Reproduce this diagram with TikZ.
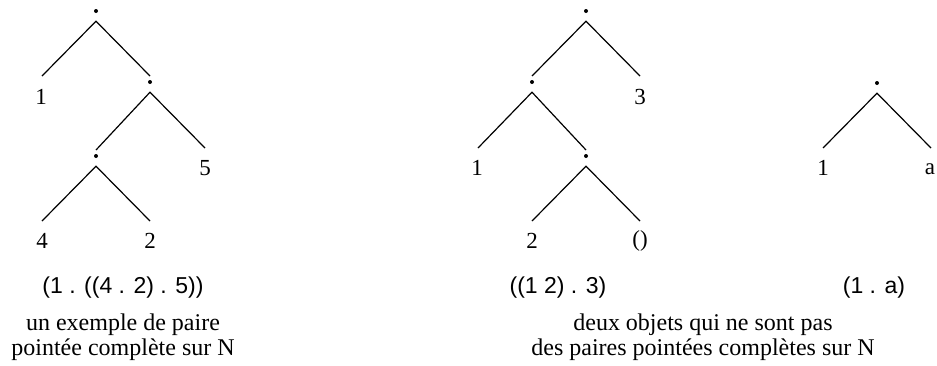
\documentclass[tikz,border=0pt]{standalone}
\usepackage{fontspec}
\setmainfont{Liberation Serif}
\newfontfamily\arialfont{Liberation Sans}
\begin{document}
\begin{tikzpicture}[x=1pt,y=-1pt,
  pairnode/.style={rectangle,inner sep=0pt,minimum width=5pt,minimum height=20pt,
    path picture={\fill (path picture bounding box.center) circle (2pt);}},
  leaf/.style={inner sep=0pt,font=\fontsize{23}{27}\selectfont},
  expr/.style={inner sep=0pt,font=\arialfont\fontsize{23}{27}\selectfont},
  caption/.style={inner sep=0pt,align=center,font=\fontsize{24}{25}\selectfont},
  edge/.style={line width=1.2pt}]
\useasboundingbox (0,0) rectangle (937,365);
% left tree
\node[pairnode] (L1) at (96,11) {};
\node[leaf] (La) at (41,97) {1};
\node[pairnode] (L2) at (150,82) {};
\node[pairnode] (L3) at (96,156) {};
\node[leaf] (Lb) at (205,168) {5};
\node[leaf] (Lc) at (42,241) {4};
\node[leaf] (Ld) at (150,241) {2};
\draw[edge] ([xshift=1pt,yshift=21pt]La.center) -- (L1.south) -- ([yshift=6pt]L2.center);
\draw[edge] ([yshift=6pt]L3.center) -- (L2.south) -- ([yshift=20pt]Lb.center);
\draw[edge] ([yshift=20pt]Lc.center) -- (L3.south) -- ([yshift=20pt]Ld.center);
% middle tree
\node[pairnode] (M1) at (586,11) {};
\node[pairnode] (M2) at (532,82) {};
\node[leaf] (Ma) at (640,97) {3};
\node[leaf] (Mb) at (477,168) {1};
\node[pairnode] (M3) at (586,156) {};
\node[leaf] (Mc) at (532,241) {2};
\node[leaf] (Md) at (640,241) {()};
\draw[edge] ([yshift=6pt]M2.center) -- (M1.south) -- ([yshift=21pt]Ma.center);
\draw[edge] ([xshift=1pt,yshift=20pt]Mb.center) -- (M2.south) -- ([yshift=6pt]M3.center);
\draw[edge] ([yshift=20pt]Mc.center) -- (M3.south) -- ([yshift=20pt]Md.center);
% right tree
\node[pairnode] (R1) at (877,83) {};
\node[leaf] (Ra) at (823,168) {1};
\node[leaf] (Rb) at (930,169) {a};
\draw[edge] ([yshift=20pt]Ra.center) -- (R1.south) -- ([xshift=1pt,yshift=21pt]Rb.center);
% captions
\node[expr] (E1) at (123,288) {(1 . ((4 . 2) . 5))};
\node[expr] (E2) at (558,288) {((1 2) . 3)};
\node[expr] (E3) at (874,288) {(1 . a)};
\node[caption] (C1) at (123,337) {un exemple de paire\\pointée complète sur N};
\node[caption] (C2) at (703,337) {deux objets qui ne sont pas\\des paires pointées complètes sur N};
\end{tikzpicture}
\end{document}
